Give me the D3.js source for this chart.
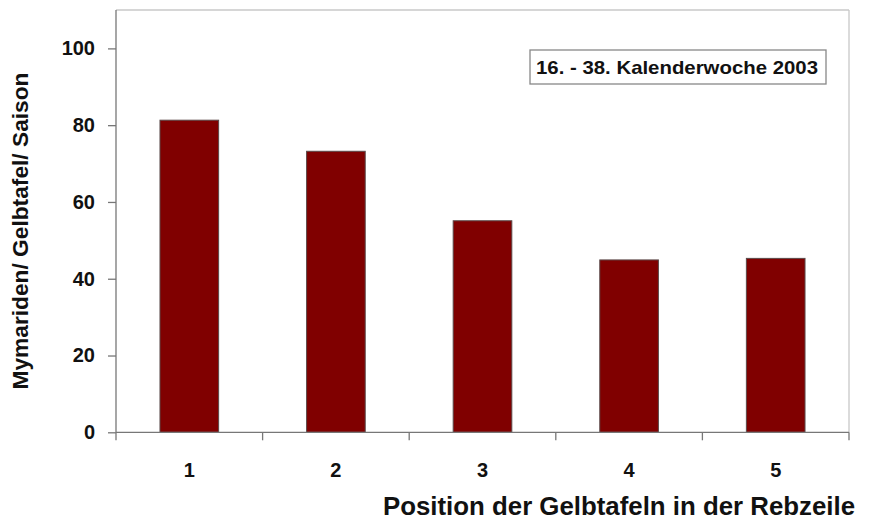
<!DOCTYPE html>
<html><head><meta charset="utf-8">
<script src="https://cdn.jsdelivr.net/npm/d3@7"></script>
<style>body{margin:0;background:#fff}svg{display:block}text{font-family:"Liberation Sans",Arial,sans-serif;font-weight:bold;fill:#111}</style>
</head><body><svg id="c" width="877" height="523"></svg>
<script>
const categories = ["1","2","3","4","5"];
const values = [81.3, 73.2, 55.1, 44.9, 45.3];
const yTicks = [0,20,40,60,80,100];
const yTitle = "Mymariden/ Gelbtafel/ Saison";
const xTitle = "Position der Gelbtafeln in der Rebzeile";
const note = "16. - 38. Kalenderwoche 2003";

const svg = d3.select("#c");
const L=116, R=849, T=10, B=432.3;
const x = d3.scaleBand().domain(categories).range([L,R]).paddingInner(0.6).paddingOuter(0.3);
const y = d3.scaleLinear().domain([0,110]).range([B,T]);

// frame top/right
svg.append("line").attr("x1",L).attr("x2",R).attr("y1",T).attr("y2",T).attr("stroke","#c8c8c8").attr("stroke-width",1.3);
svg.append("line").attr("x1",R).attr("x2",R).attr("y1",T).attr("y2",B).attr("stroke","#c8c8c8").attr("stroke-width",1.3);

svg.selectAll("rect.bar").data(values).join("rect").attr("class","bar")
  .attr("x",(d,i)=>x(categories[i])).attr("width",x.bandwidth())
  .attr("y",d=>y(d)).attr("height",d=>B-y(d))
  .attr("fill","#800000").attr("stroke","#5a4a4a").attr("stroke-width",1);

// y axis
const ya = svg.append("g").attr("transform",`translate(${L},0)`)
  .call(d3.axisLeft(y).tickValues(yTicks).tickSize(8).tickPadding(13));
ya.select(".domain").attr("stroke","#777").attr("stroke-width",1.3).attr("d",`M-0,${T}V${B}`);
ya.selectAll(".tick line").attr("stroke","#777").attr("stroke-width",1.3);
ya.selectAll(".tick text").attr("font-size",20).attr("fill","#111").style("font-family",'"Liberation Sans",Arial,sans-serif');

// x axis with boundary ticks
const xa = svg.append("g").attr("transform",`translate(0,${B})`);
xa.append("line").attr("x1",L).attr("x2",R).attr("stroke","#777").attr("stroke-width",1.3);
const bounds = d3.range(categories.length+1).map(i=>L+i*(R-L)/categories.length);
xa.selectAll("line.t").data(bounds).join("line").attr("class","t")
  .attr("x1",d=>d).attr("x2",d=>d).attr("y1",0).attr("y2",8).attr("stroke","#777").attr("stroke-width",1.3);
xa.selectAll("text").data(categories).join("text")
  .attr("x",d=>x(d)+x.bandwidth()/2).attr("y",45).attr("text-anchor","middle").attr("font-size",20).text(d=>d);

svg.append("text").attr("transform","translate(28,231) rotate(-90)").attr("text-anchor","middle")
  .attr("font-size",22).attr("textLength",317).attr("lengthAdjust","spacingAndGlyphs").text(yTitle);
svg.append("text").attr("x",855).attr("y",515).attr("text-anchor","end").attr("font-size",25)
  .attr("textLength",472).attr("lengthAdjust","spacingAndGlyphs").text(xTitle);

// note box
svg.append("rect").attr("x",530).attr("y",50).attr("width",296).attr("height",34)
  .attr("fill","#fff").attr("stroke","#888").attr("stroke-width",1.3);
svg.append("text").attr("x",677).attr("y",74).attr("text-anchor","middle").attr("font-size",19)
  .attr("textLength",282).attr("lengthAdjust","spacingAndGlyphs").text(note);
</script></body></html>
